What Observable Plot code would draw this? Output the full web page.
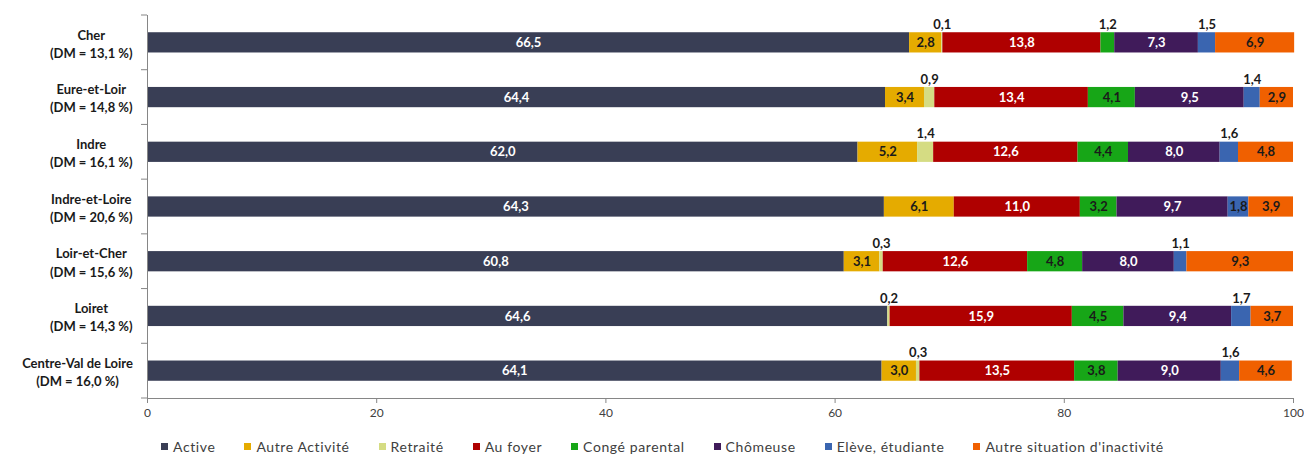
<!DOCTYPE html>
<html>
<head>
<meta charset="utf-8">
<script src="https://cdn.jsdelivr.net/npm/d3@7"></script>
<script src="https://cdn.jsdelivr.net/npm/@observablehq/plot@0.6"></script>
<style>
  body { margin: 0; background: #fff; }
  #chart { width: 1304px; }
  #legend { padding-left: 161px; padding-top: 13px; }
  #legend .lg-swatches, #legend > div { margin: 0 !important; min-height: 0 !important;
    font-family: Lato, sans-serif !important; font-size: 14px !important; letter-spacing: 0.6px; color: #404040 !important; }
  #legend .lg-swatch, #legend span[class$="-swatch"] { margin-right: 29px !important; }
  #legend .lg-swatch > svg, #legend span[class$="-swatch"] > svg { margin-right: 5px !important; }
</style>
</head>
<body>
<div id="chart"></div>
<div id="legend"></div>
<script>
const departements = ["Cher", "Eure-et-Loir", "Indre", "Indre-et-Loire", "Loir-et-Cher", "Loiret", "Centre-Val de Loire"];
const dm = ["13,1", "14,8", "16,1", "20,6", "15,6", "14,3", "16,0"];
const statuts = ["Active", "Autre Activité", "Retraité", "Au foyer", "Congé parental", "Chômeuse", "Elève, étudiante", "Autre situation d'inactivité"];
const couleurs = ["#393e55", "#e5ab00", "#d5dc83", "#af0000", "#17a617", "#401b5a", "#3a65b0", "#f06000"];

const active         = [66.5, 64.4, 62.0, 64.3, 60.8, 64.6, 64.1];
const autreActivite  = [2.8, 3.4, 5.2, 6.1, 3.1, 0, 3.0];
const retraite       = [0.1, 0.9, 1.4, 0, 0.3, 0.2, 0.3];
const auFoyer        = [13.8, 13.4, 12.6, 11.0, 12.6, 15.9, 13.5];
const congeParental  = [1.2, 4.1, 4.4, 3.2, 4.8, 4.5, 3.8];
const chomeuse       = [7.3, 9.5, 8.0, 9.7, 8.0, 9.4, 9.0];
const eleve          = [1.5, 1.4, 1.6, 1.8, 1.1, 1.7, 1.6];
const autreSituation = [6.9, 2.9, 4.8, 3.9, 9.3, 3.7, 4.6];
const xTicks = [0, 20, 40, 60, 80, 100];

const series = [active, autreActivite, retraite, auFoyer, congeParental, chomeuse, eleve, autreSituation];
const labels = departements.map((d, i) => `${d}\n(DM = ${dm[i]} %)`);
const data = [];
labels.forEach((lab, i) => {
  statuts.forEach((s, j) => data.push({label: lab, statut: s, value: series[j][i]}));
});

const fmt = v => v.toFixed(1).replace(".", ",");
const whiteText = new Set(["Active", "Au foyer", "Chômeuse"]);
const inside = d => d.value >= 1.75;
const above = d => d.value > 0 && d.value < 1.75;

const font = "Lato, sans-serif";
const plot = Plot.plot({
  width: 1304,
  height: 425,
  marginLeft: 147,
  marginRight: 11,
  marginTop: 15,
  marginBottom: 27,
  style: {fontFamily: font, fontSize: "12px", color: "#404040", background: "#fff", overflow: "visible"},
  x: {domain: [0, 100], label: null},
  y: {domain: labels, paddingInner: 0.63, paddingOuter: 0.315, round: false, label: null},
  color: {domain: statuts, range: couleurs},
  marks: [
    Plot.barX(data, {x: "value", y: "label", fill: "statut", insetTop: 0, insetBottom: 0}),
    Plot.text(data, Plot.stackX({x: "value", y: "label", z: "statut",
      text: d => inside(d) && whiteText.has(d.statut) ? fmt(d.value) : "",
      fill: "white", fontWeight: "bold", fontSize: 13, fontFamily: font})),
    Plot.text(data, Plot.stackX({x: "value", y: "label", z: "statut",
      text: d => inside(d) && !whiteText.has(d.statut) ? fmt(d.value) : "",
      fill: "#1a1a1a", fontWeight: "bold", fontSize: 13, fontFamily: font})),
    Plot.text(data, Plot.stackX({x: "value", y: "label", z: "statut",
      text: d => above(d) ? fmt(d.value) : "",
      fill: "#1a1a1a", fontWeight: "bold", fontSize: 13, fontFamily: font, dy: -18})),
    Plot.axisX({ticks: xTicks, tickSize: 5, tickPadding: 5, stroke: "#868686", fill: "#404040", fontSize: 12}),
    Plot.frame({anchor: "bottom", stroke: "#868686"}),
    Plot.ruleX([0], {stroke: "#868686"}),
    Plot.axisY({tickSize: 0, tickPadding: 14, textAnchor: "middle", lineHeight: 1.4,
      fontWeight: "bold", fontSize: 13, fill: "#1a1a1a"})
  ]
});

document.getElementById("chart").appendChild(plot);
const leg = plot.legend("color", {swatchSize: 7, className: "lg"});
document.getElementById("legend").appendChild(leg);

// y-axis ticks between categories and label block right alignment
const svg = d3.select(plot);
const ys = plot.scale("y");
const step = ys.step, pi = 0.63;
const boundaries = labels.map(l => ys.apply(l) - pi * step / 2);
boundaries.push(ys.apply(labels[labels.length - 1]) + ys.bandwidth + pi * step / 2);
svg.append("g").attr("stroke", "#868686")
  .selectAll("line").data(boundaries).join("line")
  .attr("x1", 141).attr("x2", 147)
  .attr("y1", d => d).attr("y2", d => d);

const svgRect = plot.getBoundingClientRect();
svg.selectAll('g[aria-label="y-axis tick label"] text').each(function() {
  const r = this.getBoundingClientRect();
  const shift = 133 - (r.right - svgRect.left);
  const t = this.getAttribute("transform") || "";
  this.setAttribute("transform", t + ` translate(${shift},0)`);
});
</script>
</body>
</html>
